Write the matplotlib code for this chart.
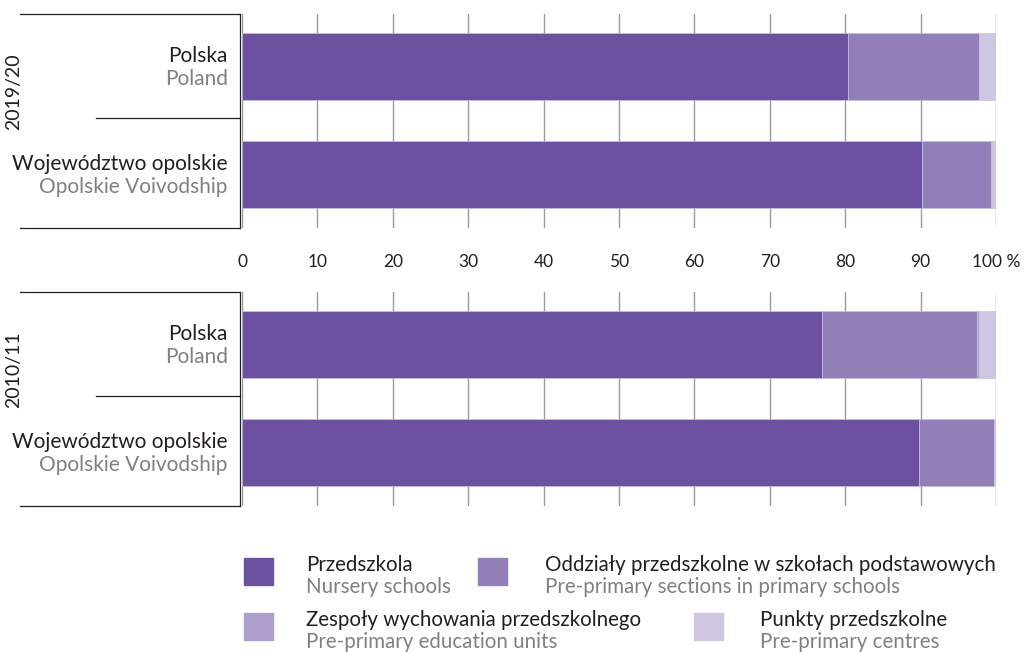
import matplotlib.pyplot as plt
from matplotlib.lines import Line2D
from matplotlib.patches import Rectangle

plt.rcParams['font.family'] = ['Lato', 'DejaVu Sans']

# data (% of children in pre-primary education by type of institution)
periods = ['2019/20', '2010/11']
regions_pl = ['Polska', 'Województwo opolskie']
regions_en = ['Poland', 'Opolskie Voivodship']
cats_pl = ['Przedszkola', 'Oddziały przedszkolne w szkołach podstawowych',
           'Zespoły wychowania przedszkolnego', 'Punkty przedszkolne']
cats_en = ['Nursery schools', 'Pre-primary sections in primary schools',
           'Pre-primary education units', 'Pre-primary centres']
colors = ['#6b51a0', '#927fb8', '#ae9fcf', '#cfc6e2']

przedszkola = {'2019/20': [80.4, 90.2], '2010/11': [76.9, 89.8]}
oddzialy = {'2019/20': [17.3, 9.2], '2010/11': [20.6, 10.0]}
zespoly = {'2019/20': [0.1, 0.1], '2010/11': [0.3, 0.0]}
punkty = {'2019/20': [2.2, 0.5], '2010/11': [2.2, 0.2]}

W, H = 1032, 652
fig = plt.figure(figsize=(W / 100, H / 100), dpi=100)


def fx(px):
    return px / W


def fy(py):
    return 1 - py / H


ax_left, ax_right = 242, 996
panels = [(14, 228), (292, 506)]
dark = '#231f20'
grey = '#808080'

for period, (ytop, ybot) in zip(periods, panels):
    ax = fig.add_axes([fx(ax_left), fy(ybot), fx(ax_right) - fx(ax_left), (ybot - ytop) / H])
    series = [przedszkola[period], oddzialy[period], zespoly[period], punkty[period]]
    ypos = [0.49, 1.5]
    left = [0, 0]
    for vals, c in zip(series, colors):
        ax.barh(ypos, vals, left=left, height=0.63, color=c,
                edgecolor='#c9c0e0', linewidth=0.5, zorder=3)
        left = [l + v for l, v in zip(left, vals)]
    ax.set_xlim(0, 100)
    ax.set_ylim(2, 0)
    ax.set_xticks(range(0, 101, 10))
    ax.grid(axis='x', color='#9a9a9a', linewidth=1, zorder=0)
    ax.set_yticks([])
    for s in ['top', 'right', 'bottom', 'left']:
        ax.spines[s].set_visible(False)
    if period == periods[0]:
        ax.tick_params(axis='x', length=0, pad=19, labelsize=12.5, labelcolor=dark)
        ax.set_xticklabels([str(v) for v in range(0, 100, 10)] + ['100 %'])
    else:
        ax.tick_params(axis='x', length=0, labelbottom=False)

    # region labels
    for y, pl, en in zip(ypos, regions_pl, regions_en):
        ax.text(-1.9, y - 0.10, pl, ha='right', va='center', fontsize=15, color=dark)
        ax.text(-1.9, y + 0.115, en, ha='right', va='center', fontsize=15, color=grey)

    # bracket lines
    mid = (ytop + ybot) / 2 - 3
    for (x0, yy) in [(20, ytop), (96, mid), (20, ybot)]:
        fig.add_artist(Line2D([fx(x0), fx(240)], [fy(yy), fy(yy)], color=dark, linewidth=0.9))
    fig.add_artist(Line2D([fx(240), fx(240)], [fy(ytop), fy(ybot)], color=dark, linewidth=0.9))
    fig.text(fx(14), fy(ytop + 78), period, rotation=90, ha='center', va='center',
             fontsize=14, color=dark)

# legend
leg_items = [(244, 558, 306), (478, 558, 545), (244, 613, 306), (694, 613, 760)]
for (px, py, tx), c, pl, en in zip(leg_items, colors, cats_pl, cats_en):
    fig.add_artist(Rectangle((fx(px), fy(py + 27)), fx(29), 27 / H, color=c,
                             transform=fig.transFigure))
    fig.text(fx(tx), fy(py + 7), pl, ha='left', va='center', fontsize=14.8, color=dark)
    fig.text(fx(tx), fy(py + 29), en, ha='left', va='center', fontsize=14.8, color=grey)

fig.savefig('out.png', dpi=100)
